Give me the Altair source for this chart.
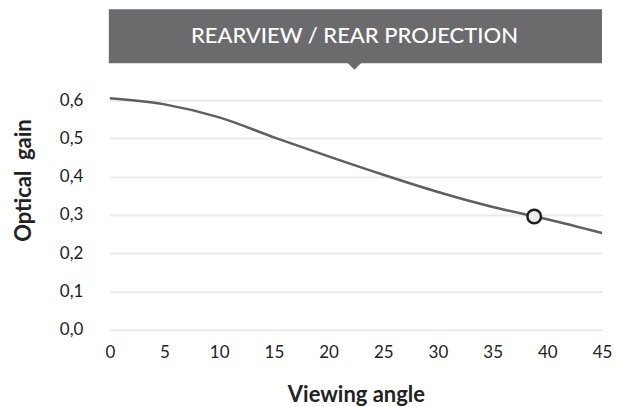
import altair as alt
import pandas as pd

# Data
angles = [0, 5, 10, 15, 20, 25, 30, 35, 40, 45]
gains = [0.605, 0.589, 0.555, 0.503, 0.453, 0.405, 0.360, 0.321, 0.289, 0.253]
marker_angle = [38.8]
marker_gain = [0.296]
x_ticks = [0, 5, 10, 15, 20, 25, 30, 35, 40, 45]
y_ticks = [0.0, 0.1, 0.2, 0.3, 0.4, 0.5, 0.6]
title_text = "REARVIEW / REAR PROJECTION"

df = pd.DataFrame({"angle": angles, "gain": gains})
mk = pd.DataFrame({"angle": marker_angle, "gain": marker_gain})

FONT = "Lato"
W, H = 493, 230

xs = alt.Scale(domain=[0, 45], nice=False)
ys = alt.Scale(domain=[0, 0.6], nice=False)

x_axis = alt.Axis(values=x_ticks, title="Viewing angle", grid=False)
y_axis = alt.Axis(values=y_ticks, title="Optical\u00a0\u00a0gain", grid=True,
                  labelExpr="replace(format(datum.value, '.1f'), '.', ',')")

line = alt.Chart(df).mark_line(color="#5f5f5f", strokeWidth=2.5,
                               interpolate="monotone", clip=False).encode(
    x=alt.X("angle:Q", scale=xs, axis=x_axis),
    y=alt.Y("gain:Q", scale=ys, axis=y_axis),
)

marker = alt.Chart(mk).mark_point(shape="circle", filled=True, fill="#ececec",
                                  stroke="#1e1e1e", strokeWidth=2.5, size=185,
                                  opacity=1).encode(
    x=alt.X("angle:Q", scale=xs, axis=x_axis),
    y=alt.Y("gain:Q", scale=ys, axis=y_axis),
)

box = alt.Chart(pd.DataFrame({"t": [title_text]})).mark_rect(color="#6b6b6d").encode(
    x=alt.value(-1), x2=alt.value(W), y=alt.value(-91), y2=alt.value(-37)
)
pointer = alt.Chart(pd.DataFrame({"t": [title_text]})).mark_point(
    shape="M-1,0L1,0L0,1Z", filled=True, fill="#6b6b6d", opacity=1, size=196
).encode(x=alt.value(245), y=alt.value(-37.5))
label = alt.Chart(pd.DataFrame({"t": [title_text]})).mark_text(
    color="white", font=FONT, fontSize=22, fontWeight=500, align="center",
    baseline="middle"
).encode(x=alt.value(245), y=alt.value(-64), text="t:N")

chart = alt.layer(box, pointer, label, line, marker).properties(
    width=W, height=H,
    autosize=alt.AutoSizeParams(type="none"),
    padding={"left": 102, "top": 92, "right": 12, "bottom": 80},
).configure_view(stroke=None).configure_axis(
    domain=False, ticks=False, labelFont=FONT, labelFontSize=17,
    labelColor="#222222", labelOverlap=False, titleFont=FONT, titleFontSize=22,
    titleFontWeight="bold", titleColor="#222222", gridColor="#ebebeb", gridWidth=2,
).configure_axisX(
    labelPadding=15, titlePadding=24, labelFlush=False,
).configure_axisY(
    labelPadding=27, titlePadding=24, titleY=80, titleAlign="center",
)

chart.save("out.html", embed_options={"renderer": "svg", "actions": False})
